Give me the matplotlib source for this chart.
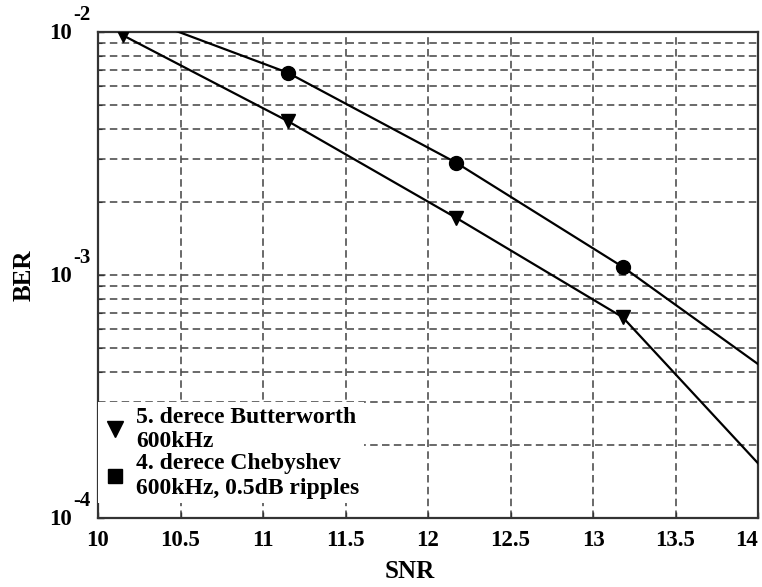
import matplotlib
matplotlib.use("Agg")
import matplotlib.pyplot as plt
from matplotlib.lines import Line2D
from matplotlib.ticker import FixedLocator, NullFormatter, LogLocator
import matplotlib.transforms as mtransforms

# SNR sample points and bit error rates for the two filter designs
snr = [10.15, 11.15, 12.17, 13.18, 14.0]
ber_butterworth = [9.7e-3, 4.3e-3, 1.72e-3, 6.7e-4, 1.68e-4]
ber_chebyshev = [1.22e-2, 6.8e-3, 2.9e-3, 1.08e-3, 4.3e-4]

x_ticks = [10, 10.5, 11, 11.5, 12, 12.5, 13, 13.5, 14]
x_tick_labels = ["10", "10.5", "11", "11.5", "12", "12.5", "13", "13.5", "14"]
y_decades = [1e-4, 1e-3, 1e-2]
y_exponents = ["-4", "-3", "-2"]

label_butterworth = "5. derece Butterworth\n600kHz"
label_chebyshev = "4. derece Chebyshev\n600kHz, 0.5dB ripples"

serif = "Liberation Serif"
plt.rcParams["font.family"] = serif
tick_fs = 16.5

fig = plt.figure(figsize=(7.62, 5.87), dpi=100)
ax = fig.add_axes([98 / 762, 1 - 518 / 587, 660 / 762, 486 / 587])

ax.set_yscale("log")
ax.set_xlim(10, 14)
ax.set_ylim(1e-4, 1e-2)

# grid: dashed at every x tick and every major/minor decade step
ax.yaxis.set_major_locator(FixedLocator(y_decades))
ax.yaxis.set_minor_locator(LogLocator(base=10, subs=range(2, 10), numticks=20))
ax.yaxis.set_major_formatter(NullFormatter())
ax.yaxis.set_minor_formatter(NullFormatter())
ax.set_xticks(x_ticks)
ax.set_xticklabels(x_tick_labels, fontsize=tick_fs, fontweight="bold", family=serif)
ax.get_xticklabels()[-1].set_horizontalalignment("right")

grid_kw = dict(color="#505050", linewidth=1.2, linestyle=(0, (4.5, 2.6)))
ax.grid(True, which="major", axis="both", **grid_kw)
ax.grid(True, which="minor", axis="y", **grid_kw)
ax.set_axisbelow(True)

ax.tick_params(axis="both", which="both", direction="in", color="#333333")
ax.tick_params(axis="both", which="major", length=4, width=1.0)
ax.tick_params(axis="y", which="minor", length=3, width=0.8)
ax.tick_params(axis="x", which="major", pad=9)

for sp in ax.spines.values():
    sp.set_linewidth(1.6)
    sp.set_color("#333333")

# curves
ax.plot(snr, ber_chebyshev, color="black", linewidth=1.6,
        marker="o", markersize=10, markevery=[0, 1, 2, 3], zorder=3)
ax.plot(snr, ber_butterworth, color="black", linewidth=1.6,
        marker="v", markersize=10, markevery=[0, 1, 2, 3], zorder=3)

# y tick labels drawn as "10" with a large raised exponent
trans = mtransforms.blended_transform_factory(ax.transAxes, ax.transData)
for dec, ex in zip(y_decades, y_exponents):
    ax.annotate("10", xy=(0, dec), xycoords=trans, xytext=(-18.5, -1),
                textcoords="offset points", ha="right", va="center",
                fontsize=tick_fs, fontweight="bold", family=serif,
                annotation_clip=False)
    ax.annotate(ex, xy=(0, dec), xycoords=trans, xytext=(-18, 12.5),
                textcoords="offset points", ha="left", va="center",
                fontsize=15, fontweight="bold", family=serif,
                annotation_clip=False)

# legend with filled triangle and square keys
handles = [
    Line2D([], [], linestyle="none", marker="v", markersize=11, color="black"),
    Line2D([], [], linestyle="none", marker="s", markersize=10, color="black"),
]
leg = ax.legend(handles, [label_butterworth, label_chebyshev],
                loc="lower left", bbox_to_anchor=(0.0, 0.03),
                prop={"family": serif, "weight": "bold", "size": 17},
                frameon=True, fancybox=False, framealpha=1.0,
                facecolor="white", edgecolor="none",
                borderaxespad=0.0, borderpad=0.2, labelspacing=0.05,
                handlelength=1.0, handletextpad=0.4)
for t in leg.get_texts():
    t.set_linespacing(1.2)

fig.text(410 / 762, 1 - 572 / 587, "SNR", ha="center", va="center",
         fontsize=18, fontweight="bold", family=serif)
fig.text(24 / 762, 1 - 275 / 587, "BER", ha="center", va="center",
         rotation=90, fontsize=18, fontweight="bold", family=serif)

fig.savefig("out.png", dpi=100)
